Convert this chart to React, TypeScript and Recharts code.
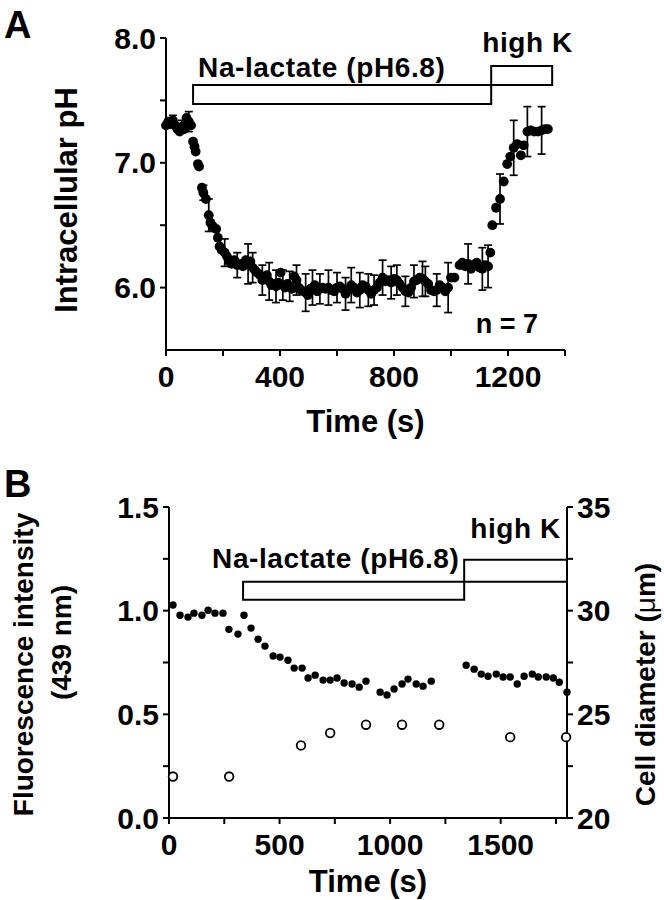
import { ScatterChart, Scatter, XAxis, YAxis, ErrorBar, ReferenceArea } from "recharts"

const FONT = "'Liberation Sans', Arial, Helvetica, sans-serif"

// --- panel A: intracellular pH (n = 7) ---
const timeA = [
  0, 8, 16, 24, 32, 40, 48, 56, 64, 72, 80, 88,
  95, 100, 104, 112, 116, 126, 131, 140, 150, 156, 165, 176, 182, 188, 196, 206, 214, 222, 230,
  240, 250, 260, 270, 280, 288, 296, 304, 312, 320, 330, 338, 346, 354, 362, 370, 378, 386, 394,
  402, 410, 418, 426, 434, 442, 450, 458, 466, 474, 482, 490, 498, 506, 514, 522, 530, 540, 550,
  560, 570, 580, 590, 600, 610, 620, 630, 640, 650, 660, 670, 680, 690, 700, 710, 720, 730, 740,
  750, 760, 770, 780, 790, 800, 810, 820, 830, 840, 850, 860, 870, 880, 890, 900, 910, 920, 930,
  940, 950, 960, 970, 980, 990, 1000, 1012,
  1030, 1040, 1050, 1060, 1070, 1080, 1090, 1100, 1110, 1120, 1130, 1138,
  1145, 1158, 1172, 1185, 1197, 1208, 1220, 1232, 1245, 1255, 1268, 1280, 1292, 1305, 1318, 1330, 1340,
]
const phA = [
  7.3, 7.33, 7.31, 7.34, 7.3, 7.27, 7.25, 7.29, 7.27, 7.36, 7.33, 7.3,
  7.17, 7.13, 7.09, 6.99, 6.97, 6.8, 6.76, 6.71, 6.58, 6.52, 6.49, 6.47, 6.4, 6.33, 6.3, 6.28, 6.25, 6.21, 6.19,
  6.22, 6.18, 6.19, 6.17, 6.22, 6.19, 6.21, 6.16, 6.14, 6.12, 6.1, 6.06, 6.08, 6.1, 6.05, 6.02, 6.03, 6.01, 6.04,
  6.12, 6.02, 6.0, 6.03, 6.01, 5.99, 6.09, 6.06, 6.0, 5.98, 5.97, 5.96, 5.94, 5.99, 6.0, 6.02, 5.97, 5.99, 6.0,
  5.99, 6.0, 5.98, 5.97, 6.0, 6.01, 5.99, 5.95, 5.98, 6.02, 6.0, 5.96, 5.98, 6.02, 6.01, 5.98, 5.95, 5.98, 6.0,
  6.04, 6.08, 6.05, 6.06, 6.04, 6.07, 6.06, 6.03, 6.0, 5.97, 5.96, 6.0, 6.05, 6.06, 6.08, 6.07, 6.05, 6.03, 5.98,
  5.97, 5.98, 6.02, 6.0, 5.97, 6.0, 6.08, 6.08,
  6.18, 6.2, 6.17, 6.19, 6.15, 6.18, 6.2, 6.16, 6.15, 6.18, 6.17, 6.28,
  6.5, 6.64, 6.71, 6.85, 6.99, 7.05, 7.12, 7.15, 7.06, 7.14, 7.25, 7.26, 7.25, 7.25, 7.26, 7.27, 7.27,
]
// points that carry a visible s.e.m. bar
const errTimeA = [
  24, 56, 80, 131, 150, 206, 250, 288, 304, 338, 362, 386, 410, 434, 458, 490, 514, 540, 570, 600,
  630, 650, 680, 710, 730, 760, 790, 810, 840, 870, 900, 910, 950, 990, 1060, 1110, 1130, 1172, 1220, 1268, 1318,
]
const errSizeA = [
  0.04, 0.05, 0.08, 0.06, 0.13, 0.11, 0.1, 0.16, 0.12, 0.12, 0.15, 0.13, 0.12, 0.12, 0.12, 0.15, 0.14, 0.12, 0.14, 0.12,
  0.13, 0.14, 0.14, 0.13, 0.12, 0.14, 0.13, 0.12, 0.12, 0.13, 0.14, 0.12, 0.13, 0.2, 0.16, 0.17, 0.17, 0.2, 0.22, 0.2, 0.19,
]
const ticksXA = [0, 200, 400, 600, 800, 1000, 1200, 1400]
const labelsXA = [0, 400, 800, 1200]
const ticksYA = [6, 6.5, 7, 7.5, 8]
const labelsYA = [6, 7, 8]

// --- panel B: fluorescence (filled) and cell diameter (open) ---
const timeB = [
  18, 50, 86, 113, 149, 177, 208, 244, 271, 312, 339, 371, 403, 434, 471, 502, 538, 566, 602, 629,
  661, 697, 729, 760, 792, 828, 860, 891, 955, 986, 1018, 1054, 1081, 1118, 1149, 1186,
  1344, 1380, 1412, 1443, 1480, 1511, 1543, 1575, 1606, 1643, 1670, 1706, 1738, 1765, 1800,
]
const fluorB = [
  1.027, 0.978, 0.969, 0.988, 0.978, 1.002, 0.988, 0.988, 0.91, 0.887, 0.978, 0.916, 0.862, 0.829, 0.781, 0.776, 0.761, 0.723, 0.723, 0.675,
  0.689, 0.665, 0.665, 0.675, 0.651, 0.646, 0.631, 0.66, 0.607, 0.593, 0.622, 0.646, 0.67, 0.646, 0.636, 0.66,
  0.737, 0.718, 0.694, 0.684, 0.694, 0.68, 0.68, 0.646, 0.684, 0.694, 0.68, 0.68, 0.675, 0.655, 0.607,
]
const timeDiam = [18, 272, 597, 729, 891, 1054, 1222, 1543, 1796]
const diamB = [22.0, 22.0, 23.5, 24.1, 24.5, 24.5, 24.5, 23.9, 23.9]
const ticksXB = [0, 250, 500, 750, 1000, 1250, 1500, 1750]
const labelsXB = [0, 500, 1000, 1500]
const ticksYB = [0, 0.25, 0.5, 0.75, 1, 1.25, 1.5]
const ticksYR = [20, 22.5, 25, 27.5, 30, 32.5, 35]

const dataA = timeA.map((t, i) => ({ t, v: phA[i] }))
const errDataA = errTimeA
  .map((t, i) => ({ t, v: phA[timeA.indexOf(t)], err: errSizeA[i] }))
  .filter((d) => d.v !== undefined)
const dataB = timeB.map((t, i) => ({ t, v: fluorB[i] }))
const dataDiam = timeDiam.map((t, i) => ({ t, d: diamB[i] }))

const line = { stroke: "#000", strokeWidth: 2 }
const tickFont = { fontSize: 30, fontWeight: 700, fontFamily: FONT, fill: "#000" }
const txt = { fontFamily: FONT, fontWeight: 700, fill: "#000" }

const filledA = (p: any) => <circle cx={p.cx} cy={p.cy} r={4.9} fill="#000" />
const filledB = (p: any) => <circle cx={p.cx} cy={p.cy} r={3.7} fill="#000" />
const openB = (p: any) => <circle cx={p.cx} cy={p.cy} r={4.3} fill="#fff" stroke="#000" strokeWidth={1.8} />
const noDot = () => <g />

const boxLabel = (text: string, dx: number, dy: number) => (p: any) => {
  const vb = p.viewBox
  return (
    <text x={vb.x + dx} y={vb.y + dy} fontSize={28} letterSpacing={0.6} style={txt}>
      {text}
    </text>
  )
}

function PanelA() {
  const xLabel = (p: any) => {
    const vb = p.viewBox
    return (
      <g>
        <text x={vb.x + vb.width / 2} y={vb.y + 82} textAnchor="middle" fontSize={31} style={txt}>
          Time (s)
        </text>
        <text x={vb.x + vb.width - 27} y={vb.y - 17} textAnchor="end" fontSize={27} style={txt}>
          n = 7
        </text>
      </g>
    )
  }
  const yLabel = (p: any) => {
    const vb = p.viewBox
    const cy = vb.y + vb.height / 2 + 6
    return (
      <g>
        <text x={4} y={38} fontSize={38} style={txt}>A</text>
        <text x={77} y={cy} textAnchor="middle" fontSize={31} transform={`rotate(-90 77 ${cy})`} style={txt}>
          Intracellular pH
        </text>
      </g>
    )
  }
  return (
    <ScatterChart width={664} height={455} margin={{ top: 38, right: 99, bottom: 0, left: 0 }}>
      <XAxis
        dataKey="t" type="number" domain={[0, 1400]} ticks={ticksXA} interval={0}
        tickFormatter={(v) => (labelsXA.includes(v) ? String(v) : "")}
        axisLine={line} tickLine={line} tickSize={6} tickMargin={10} tick={tickFont}
        height={105} label={xLabel}
      />
      <YAxis
        dataKey="v" type="number" domain={[5.5, 8]} ticks={ticksYA} interval={0}
        tickFormatter={(v) => (labelsYA.includes(v) ? v.toFixed(1) : "")}
        axisLine={line} tickLine={line} tickSize={6} tickMargin={4} tick={tickFont}
        width={166} label={yLabel}
      />
      <ReferenceArea x1={95} x2={1141} y1={7.471} y2={7.623} fill="#fff" fillOpacity={1} stroke="#000" strokeWidth={2}
        label={boxLabel("Na-lactate (pH6.8)", 5, -8)} />
      <ReferenceArea x1={1141} x2={1355} y1={7.623} y2={7.775} fill="#fff" fillOpacity={1} stroke="#000" strokeWidth={2}
        label={boxLabel("high K", -9, -14)} />
      <Scatter data={errDataA} shape={noDot} isAnimationActive={false}>
        <ErrorBar dataKey="err" direction="y" width={4} stroke="#000" strokeWidth={1.7} />
      </Scatter>
      <Scatter data={dataA} shape={filledA} isAnimationActive={false} />
    </ScatterChart>
  )
}

function PanelB() {
  const xLabel = (p: any) => {
    const vb = p.viewBox
    return (
      <text x={vb.x + vb.width / 2} y={vb.y + 74} textAnchor="middle" fontSize={31} style={txt}>
        Time (s)
      </text>
    )
  }
  const yLabel = (p: any) => {
    const vb = p.viewBox
    const c1 = vb.y + vb.height / 2 + 2
    const c2 = vb.y + vb.height / 2 - 20
    return (
      <g>
        <text x={4} y={37} fontSize={38} style={txt}>B</text>
        <text x={33} y={c1} textAnchor="middle" fontSize={28} transform={`rotate(-90 33 ${c1})`} style={txt}>
          Fluorescence intensity
        </text>
        <text x={71} y={c2} textAnchor="middle" fontSize={28} transform={`rotate(-90 71 ${c2})`} style={txt}>
          (439 nm)
        </text>
      </g>
    )
  }
  const rLabel = (p: any) => {
    const vb = p.viewBox
    const x = vb.x + 88
    const cy = vb.y + vb.height / 2 + 22
    return (
      <text x={x} y={cy} textAnchor="middle" fontSize={28} transform={`rotate(-90 ${x} ${cy})`} style={txt}>
        Cell diameter (<tspan fontWeight={400}>μ</tspan>m)
      </text>
    )
  }
  return (
    <ScatterChart width={664} height={440} margin={{ top: 47, right: 0, bottom: 0, left: 0 }}>
      <XAxis
        dataKey="t" type="number" domain={[0, 1800]} ticks={ticksXB} interval={0}
        tickFormatter={(v) => (labelsXB.includes(v) ? String(v) : "")}
        axisLine={line} tickLine={line} tickSize={6} tickMargin={10} tick={tickFont}
        height={82} label={xLabel}
      />
      <YAxis
        yAxisId="left" dataKey="v" type="number" domain={[0, 1.5]} ticks={ticksYB} interval={0}
        tickFormatter={(v) => (v % 0.5 === 0 ? v.toFixed(1) : "")}
        axisLine={line} tickLine={line} tickSize={6} tickMargin={4} tick={tickFont}
        width={169} label={yLabel}
      />
      <YAxis
        yAxisId="right" orientation="right" dataKey="d" type="number" domain={[20, 35]} ticks={ticksYR} interval={0}
        tickFormatter={(v) => (v % 5 === 0 ? String(v) : "")}
        axisLine={line} tickLine={line} tickSize={6} tickMargin={4} tick={tickFont}
        width={97} label={rLabel}
      />
      <ReferenceArea yAxisId="left" x1={335} x2={1335} y1={1.053} y2={1.139} fill="#fff" fillOpacity={1} stroke="#000" strokeWidth={2}
        label={boxLabel("Na-lactate (pH6.8)", -31, -14)} />
      <ReferenceArea yAxisId="left" x1={1335} x2={1800} y1={1.139} y2={1.245} fill="#fff" fillOpacity={1} stroke="#000" strokeWidth={2}
        label={boxLabel("high K", 6, -22)} />
      <Scatter yAxisId="left" data={dataB} shape={filledB} isAnimationActive={false} />
      <Scatter yAxisId="right" data={dataDiam} shape={openB} isAnimationActive={false} />
    </ScatterChart>
  )
}

export default function App() {
  return (
    <div style={{ position: "absolute", left: 0, top: 0, width: 664, height: 900, background: "#fff" }}>
      <div style={{ position: "absolute", left: 0, top: 0 }}>
        <PanelA />
      </div>
      <div style={{ position: "absolute", left: 0, top: 460 }}>
        <PanelB />
      </div>
    </div>
  )
}
